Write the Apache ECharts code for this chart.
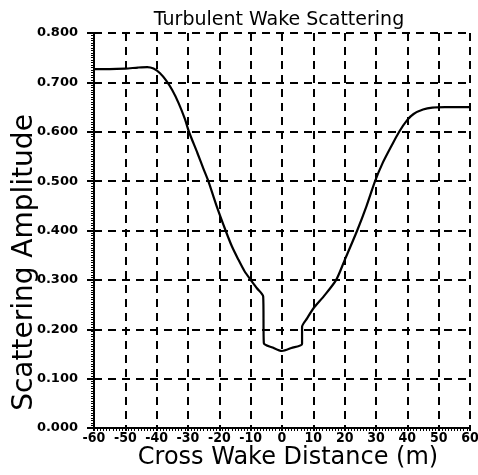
<!DOCTYPE html>
<html>
<head>
<meta charset="utf-8">
<script src="https://cdn.jsdelivr.net/npm/echarts@6/dist/echarts.min.js"></script>
<style>
  html, body { margin: 0; padding: 0; background: #fff; }
  #chart { width: 478px; height: 475px; }
</style>
</head>
<body>
<div id="chart"></div>
<script>
// 横向距离 (m)
const crossDist = [-60, -55, -50, -46, -43, -41, -39, -37, -35, -33, -31, -29.7, -27, -25, -23.5,
  -21, -18, -16, -14, -12, -10, -8, -6, -5.8, -3, 0, 3, 6.4, 6.4, 8, 10, 13.5, 17.3, 20, 24,
  27, 29.7, 32, 35, 37.4, 40, 42, 45, 48, 52, 60];
// 散射幅度
const scatterAmp = [0.727, 0.727, 0.728, 0.730, 0.731, 0.728, 0.719, 0.704, 0.684, 0.658, 0.626, 0.600, 0.557, 0.524, 0.500,
  0.452, 0.400, 0.368, 0.342, 0.318, 0.300, 0.283, 0.266, 0.172, 0.163, 0.156, 0.162, 0.170, 0.205, 0.222, 0.242, 0.268, 0.300, 0.340, 0.400,
  0.450, 0.500, 0.535, 0.572, 0.600, 0.624, 0.636, 0.645, 0.649, 0.650, 0.650];
const yTicks = [0, 0.1, 0.2, 0.3, 0.4, 0.5, 0.6, 0.7, 0.8];
const xTicks = [-60, -50, -40, -30, -20, -10, 0, 10, 20, 30, 40, 50, 60];

const font = 'DejaVu Sans';
const gridLine = { show: true, lineStyle: { color: '#000', width: 2, type: [8, 6] } };

// 基于准备好的dom，初始化echarts实例
const myChart = echarts.init(document.getElementById('chart'));
const option = {
  animation: false,
  backgroundColor: '#fff',
  title: {
    text: 'Turbulent Wake Scattering',
    left: 274, top: 6, textAlign: 'center',
    textStyle: { fontFamily: font, fontSize: 19, fontWeight: 'normal', color: '#000' }
  },
  grid: { left: 94, right: 8, top: 33, bottom: 47, outerBoundsMode: 'none' },
  xAxis: {
    type: 'value',
    min: xTicks[0], max: xTicks[xTicks.length - 1], interval: 10,
    name: 'Cross Wake Distance (m)',
    nameLocation: 'middle', nameGap: 18, nameMoveOverlap: false,
    nameTextStyle: { fontFamily: font, fontSize: 24, color: '#000', padding: [0, 0, 0, 12] },
    axisLine: { show: true, onZero: false, lineStyle: { color: '#000', width: 2 } },
    axisTick: { show: true, length: 3, lineStyle: { color: '#000', width: 2 } },
    minorTick: { show: true, splitNumber: 10, length: 3, lineStyle: { color: '#000', width: 1 } },
    axisLabel: {
      fontFamily: '"DejaVu Sans Condensed", "Liberation Sans", sans-serif',
      fontSize: 14, fontWeight: 'bold', color: '#000', margin: 3
    },
    splitLine: gridLine
  },
  yAxis: {
    type: 'value',
    min: yTicks[0], max: yTicks[yTicks.length - 1], interval: 0.1,
    name: 'Scattering Amplitude',
    nameLocation: 'middle', nameGap: 55, nameMoveOverlap: false,
    nameTextStyle: { fontFamily: font, fontSize: 28, color: '#000', padding: [0, 64, 0, 0] },
    axisLine: { show: true, onZero: false, lineStyle: { color: '#000', width: 2 } },
    axisTick: { show: true, length: 7, lineStyle: { color: '#000', width: 2 } },
    minorTick: { show: true, splitNumber: 20, length: 3, lineStyle: { color: '#000', width: 1 } },
    axisLabel: {
      fontFamily: font, fontSize: 13, fontWeight: 'bold', color: '#000', margin: 16,
      formatter: v => v.toFixed(3)
    },
    splitLine: gridLine
  },
  series: [{
    type: 'line',
    data: crossDist.map((x, i) => [x, scatterAmp[i]]),
    showSymbol: false,
    smooth: 0.25,
    lineStyle: { color: '#000', width: 2.2 }
  }]
};
// 绘制图表
myChart.setOption(option);
</script>
</body>
</html>
